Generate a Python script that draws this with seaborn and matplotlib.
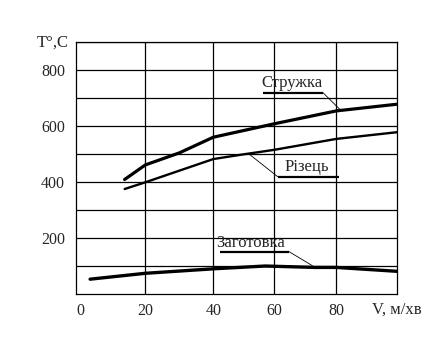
import numpy as np
import pandas as pd
import matplotlib
matplotlib.use("Agg")
import matplotlib.pyplot as plt
import seaborn as sns

# ---- data ----
chip_v = [14, 20, 30, 40, 60, 80, 100]
chip_t = [410, 462, 505, 561, 609, 655, 679]

tool_v = [14, 20, 40, 50, 60, 80, 100]
tool_t = [376, 400, 483, 500, 516, 555, 579]

work_v = [4, 20, 40, 57, 73, 80, 90, 100]
work_t = [54, 75, 91, 101, 96, 96, 89, 82]

x_tick_vals = [0, 20, 40, 60, 80]
x_tick_labels = ["0", "20", "40", "60", "80"]
y_tick_vals = [100, 200, 300, 400, 500, 600, 700, 800, 900]
y_tick_labels = ["", "200", "", "400", "", "600", "", "800", ""]

# hand-drawn (non uniform) x axis: value -> relative position
x_knots = [0, 20, 40, 60, 80, 100]
x_pos = [0, 69, 137, 198, 260, 321]

def fwd(v):
    return np.interp(v, x_knots, x_pos)

def inv(p):
    return np.interp(p, x_pos, x_knots)

sns.set_theme(style="white")
plt.rcParams["font.family"] = ["Liberation Serif", "DejaVu Serif"]

fig = plt.figure(figsize=(4.42, 3.47), dpi=100)
ax = fig.add_axes([76.3 / 442, (347 - 294.3) / 347, 321 / 442, 252 / 347])
ax.set_xscale("function", functions=(fwd, inv))

df_chip = pd.DataFrame({"v": chip_v, "t": chip_t})
df_tool = pd.DataFrame({"v": tool_v, "t": tool_t})
df_work = pd.DataFrame({"v": work_v, "t": work_t})

sns.lineplot(data=df_chip, x="v", y="t", ax=ax, color="black", lw=2.3, sort=False)
sns.lineplot(data=df_tool, x="v", y="t", ax=ax, color="black", lw=1.7, sort=False)
sns.lineplot(data=df_work, x="v", y="t", ax=ax, color="black", lw=2.4, sort=False)

ax.set_xlim(0, 100)
ax.set_ylim(0, 900)
ax.set_xticks([20, 40, 60, 80])
ax.set_xticklabels([])
ax.set_yticks(y_tick_vals)
ax.set_yticklabels(y_tick_labels, fontsize=11.5)
ax.tick_params(axis="both", length=0, pad=8)
ax.grid(True, color="black", lw=0.9)
ax.set_xlabel("")
ax.set_ylabel("")
for s in ax.spines.values():
    s.set_color("black")
    s.set_linewidth(0.9)

# x tick labels (drawn as text below axis)
for v, lab in zip(x_tick_vals, x_tick_labels):
    off = 4 if v == 0 else 0
    ax.annotate(lab, xy=(v, 0), xycoords="data", xytext=(off * 0.75, -16 * 0.75),
                textcoords="offset points", ha="center", va="center", fontsize=11.5)

fig.text(372 / 442, 1 - 310 / 347, "V, м/хв", ha="left", va="center", fontsize=12)
fig.text(37 / 442, 1 - 43 / 347, "T°,C", ha="left", va="center", fontsize=12)

# labels with underline and leader line
def label(text, tx, ty, ux0, ux1, uy, lx, ly):
    ax.text(tx, ty, text, ha="center", va="center", fontsize=12)
    ax.plot([ux0, ux1], [uy, uy], color="black", lw=1.6, solid_capstyle="butt")
    ax.plot([ux1 if lx > ux1 else ux0, lx], [uy, ly], color="black", lw=0.6)

label("Стружка", 65.7, 756, 56.3, 75.7, 720, 81.4, 658)
label("Різець", 70.4, 456, 61.1, 80.8, 420, 51.5, 503)
label("Заготовка", 52.2, 182, 42.2, 64.8, 152, 72.3, 102)

fig.savefig("out.png", dpi=100)
